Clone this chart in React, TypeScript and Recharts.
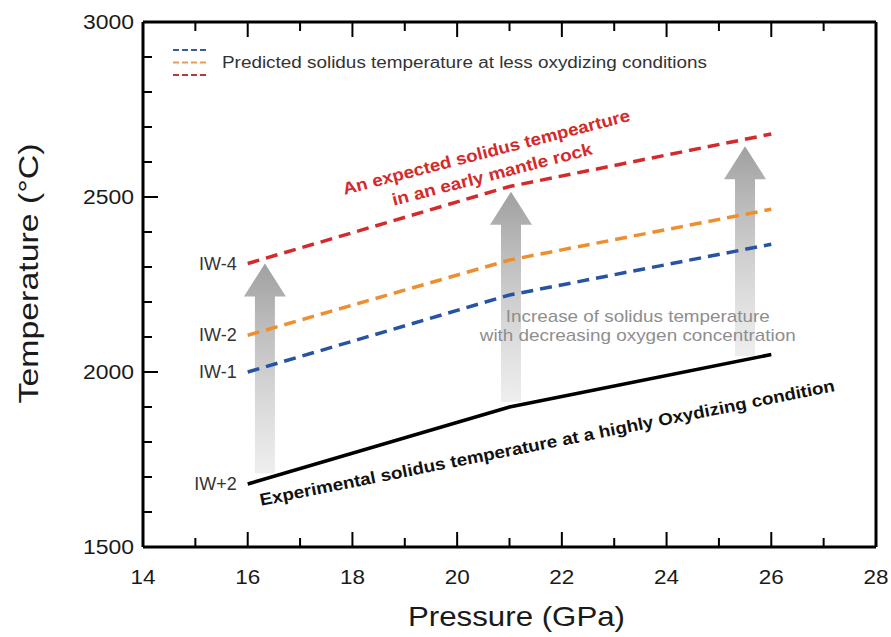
import {
  ComposedChart,
  Line,
  Bar,
  XAxis,
  YAxis,
  ReferenceDot,
  Legend,
} from "recharts";

// pressure (GPa) where each solidus curve was read
const pressure = [16, 21, 26];
const oxidizing = [1680, 1900, 2050]; // IW+2, experimental
const iw1 = [2000, 2220, 2365];
const iw2 = [2105, 2320, 2465];
const iw4 = [2310, 2530, 2680];

const xTicks = [14, 15, 16, 17, 18, 19, 20, 21, 22, 23, 24, 25, 26, 27, 28];
const yTicks = [
  1500, 1600, 1700, 1800, 1900, 2000, 2100, 2200, 2300, 2400, 2500, 2600,
  2700, 2800, 2900, 3000,
];

// grey arrows: pressure, bottom temp, tip temp
const arrowP = [16.33, 21.03, 25.5];
const arrowFrom = [1710, 1915, 2045];
const arrowTo = [2310, 2515, 2645];

const data = [
  ...pressure.map((p, i) => ({
    p,
    ox: oxidizing[i],
    iw1: iw1[i],
    iw2: iw2[i],
    iw4: iw4[i],
  })),
  ...arrowP.map((p, i) => ({ p, arrow: [arrowFrom[i], arrowTo[i]] })),
].sort((a, b) => a.p - b.p);

const FONT = "'Liberation Sans', Arial, sans-serif";
const RED = "#d42a2c";
const ORANGE = "#ee8f2f";
const BLUE = "#2753a3";
const STRETCH = "spacingAndGlyphs";

const LeftTick = ({ x, y, payload }: any) => {
  const major = payload.value % 500 === 0;
  return (
    <g>
      <line x1={x} x2={x + (major ? 15 : 9)} y1={y} y2={y} stroke="#000" strokeWidth={2} />
      {major && (
        <text x={x - 9} y={y} textAnchor="end" dominantBaseline="central" fontSize={20} fontFamily={FONT} fill="#1a1a1a" textLength={51} lengthAdjust={STRETCH}>
          {payload.value}
        </text>
      )}
    </g>
  );
};

const RightTick = ({ x, y, payload }: any) => {
  const major = payload.value % 500 === 0;
  return <line x1={x} x2={x - (major ? 15 : 9)} y1={y} y2={y} stroke="#000" strokeWidth={2} />;
};

const BottomTick = ({ x, y, payload }: any) => {
  const major = payload.value % 2 === 0;
  return (
    <g>
      <line x1={x} x2={x} y1={y} y2={y - (major ? 15 : 9)} stroke="#000" strokeWidth={2} />
      {major && (
        <text x={x} y={y + 37} textAnchor="middle" fontSize={20} fontFamily={FONT} fill="#1a1a1a" textLength={25} lengthAdjust={STRETCH}>
          {payload.value}
        </text>
      )}
    </g>
  );
};

const TopTick = ({ x, y, payload }: any) => {
  const major = payload.value % 2 === 0;
  return <line x1={x} x2={x} y1={y} y2={y + (major ? 15 : 9)} stroke="#000" strokeWidth={2} />;
};

// bar shape drawn as a shaded upward arrow
const Arrow = (props: any) => {
  const { x, y, width, height, index } = props;
  if (!height) return null;
  const cx = x + width / 2;
  const top = y;
  const bot = y + height;
  const id = "arrowGrad" + index;
  const pts = [
    [cx - 10, bot],
    [cx - 10, top + 33],
    [cx - 21, top + 33],
    [cx, top],
    [cx + 21, top + 33],
    [cx + 10, top + 33],
    [cx + 10, bot],
  ]
    .map((q) => q.join(","))
    .join(" ");
  return (
    <g>
      <defs>
        <linearGradient id={id} x1="0" y1="0" x2="0" y2="1">
          <stop offset="0%" stopColor="#888888" stopOpacity={0.8} />
          <stop offset="100%" stopColor="#dddddd" stopOpacity={0.5} />
        </linearGradient>
      </defs>
      <polygon points={pts} fill={`url(#${id})`} />
    </g>
  );
};

const sideLabel = (text: string) => (props: any) => (
  <text x={props.cx - 11} y={props.cy} textAnchor="end" dominantBaseline="central" fontSize={18} fontFamily={FONT} fill="#333">
    {text}
  </text>
);

const redNote = (props: any) => (
  <g transform={`translate(${props.cx},${props.cy}) rotate(-14.5)`}>
    <text x={0} y={-11} textAnchor="middle" dominantBaseline="central" fontSize={17} fontWeight="bold" fontFamily={FONT} fill={RED} textLength={296} lengthAdjust={STRETCH}>
      An expected solidus tempearture
    </text>
    <text x={0} y={12} textAnchor="middle" dominantBaseline="central" fontSize={17} fontWeight="bold" fontFamily={FONT} fill={RED} textLength={206} lengthAdjust={STRETCH}>
      in an early mantle rock
    </text>
  </g>
);

const blackNote = (props: any) => (
  <text
    transform={`translate(${props.cx},${props.cy}) rotate(-11.3)`}
    textAnchor="middle"
    dominantBaseline="central"
    fontSize={17}
    fontWeight="bold"
    fontFamily={FONT}
    fill="#111"
    textLength={586}
    lengthAdjust={STRETCH}
  >
    Experimental solidus temperature at a highly Oxydizing condition
  </text>
);

const greyNote = (props: any) => (
  <g fontSize={17} fontFamily={FONT} fill="#8e8e8e">
    <text x={props.cx} y={props.cy - 4} textAnchor="middle" textLength={264} lengthAdjust={STRETCH}>
      Increase of solidus temperature
    </text>
    <text x={props.cx} y={props.cy + 15} textAnchor="middle" textLength={316} lengthAdjust={STRETCH}>
      with decreasing oxygen concentration
    </text>
  </g>
);

const renderLegend = () => (
  <svg width={560} height={44}>
    {["#3c5c98", "#e99b55", "#b9383a"].map((c, i) => (
      <line key={c} x1={5} x2={40} y1={10 + i * 12.5} y2={10 + i * 12.5} stroke={c} strokeWidth={2.2} strokeDasharray="6 3" />
    ))}
    <text x={54} y={22.5} dominantBaseline="central" fontSize={16} fontFamily={FONT} fill="#333" textLength={485} lengthAdjust={STRETCH}>
      Predicted solidus temperature at less oxydizing conditions
    </text>
  </svg>
);

export default function App() {
  return (
    <div style={{ position: "absolute", left: 0, top: 0, background: "#fff" }}>
      <ComposedChart width={891} height={637} data={data} margin={{ top: 20, right: 13, bottom: 0, left: 0 }}>
        <XAxis
          dataKey="p"
          type="number"
          domain={[14, 28]}
          ticks={xTicks}
          interval={0}
          height={90}
          tickSize={0}
          tickMargin={0}
          tickLine={false}
          axisLine={{ stroke: "#000", strokeWidth: 3 }}
          tick={<BottomTick />}
          label={(p: any) => (
            <text x={p.viewBox.x + p.viewBox.width / 2 + 7} y={626} textAnchor="middle" fontSize={28} fontFamily={FONT} fill="#1a1a1a" textLength={217} lengthAdjust={STRETCH}>
              Pressure (GPa)
            </text>
          )}
        />
        <XAxis
          xAxisId="top"
          dataKey="p"
          type="number"
          orientation="top"
          domain={[14, 28]}
          ticks={xTicks}
          interval={0}
          height={2}
          tickSize={0}
          tickMargin={0}
          tickLine={false}
          axisLine={{ stroke: "#000", strokeWidth: 3 }}
          tick={<TopTick />}
        />
        <YAxis
          type="number"
          domain={[1500, 3000]}
          ticks={yTicks}
          interval={0}
          width={143}
          tickSize={0}
          tickMargin={0}
          tickLine={false}
          axisLine={{ stroke: "#000", strokeWidth: 3 }}
          tick={<LeftTick />}
          label={(p: any) => (
            <text
              transform={`translate(28,${p.viewBox.y + p.viewBox.height / 2 - 11}) rotate(-90)`}
              textAnchor="middle"
              dominantBaseline="central"
              fontSize={28}
              fontFamily={FONT}
              fill="#1a1a1a"
              textLength={260}
              lengthAdjust={STRETCH}
            >
              Temperature (°C)
            </text>
          )}
        />
        <YAxis
          yAxisId="right"
          orientation="right"
          type="number"
          domain={[1500, 3000]}
          ticks={yTicks}
          interval={0}
          width={2}
          tickSize={0}
          tickMargin={0}
          tickLine={false}
          axisLine={{ stroke: "#000", strokeWidth: 3 }}
          tick={<RightTick />}
        />
        <Legend
          layout="vertical"
          align="center"
          verticalAlign="middle"
          content={renderLegend}
          wrapperStyle={{ left: 168, top: 40, width: 560 }}
        />
        <Bar dataKey="arrow" barSize={42} shape={(s: any) => <Arrow {...s} />} isAnimationActive={false} />
        <Line dataKey="ox" stroke="#000" strokeWidth={3.5} dot={false} connectNulls isAnimationActive={false} />
        <Line dataKey="iw1" stroke={BLUE} strokeWidth={3.5} strokeDasharray="12 7" dot={false} connectNulls isAnimationActive={false} />
        <Line dataKey="iw2" stroke={ORANGE} strokeWidth={3.5} strokeDasharray="12 7" dot={false} connectNulls isAnimationActive={false} />
        <Line dataKey="iw4" stroke={RED} strokeWidth={3.5} strokeDasharray="12 7" dot={false} connectNulls isAnimationActive={false} />
        <ReferenceDot x={pressure[0]} y={iw4[0]} r={0} shape={sideLabel("IW-4")} />
        <ReferenceDot x={pressure[0]} y={iw2[0]} r={0} shape={sideLabel("IW-2")} />
        <ReferenceDot x={pressure[0]} y={iw1[0]} r={0} shape={sideLabel("IW-1")} />
        <ReferenceDot x={pressure[0]} y={oxidizing[0]} r={0} shape={sideLabel("IW+2")} />
        <ReferenceDot x={20.61} y={2597} r={0} shape={redNote} />
        <ReferenceDot x={21.72} y={1797} r={0} shape={blackNote} />
        <ReferenceDot x={23.45} y={2131} r={0} shape={greyNote} />
      </ComposedChart>
    </div>
  );
}
